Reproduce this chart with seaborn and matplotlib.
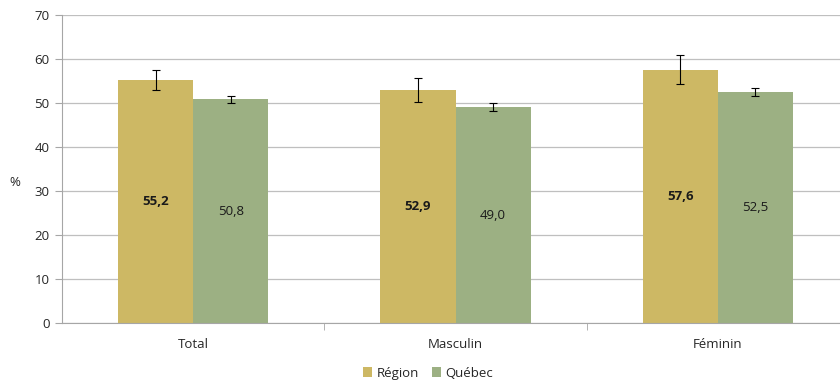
import pandas as pd
import matplotlib.pyplot as plt
import seaborn as sns
import numpy as np

categories = ["Total", "Masculin", "Féminin"]
region = [55.2, 52.9, 57.6]
quebec = [50.8, 49.0, 52.5]
region_err = [2.2, 2.7, 3.2]
quebec_err = [0.8, 0.9, 1.0]
series = ["Région", "Québec"]

df = pd.DataFrame({
    "cat": categories * 2,
    "val": region + quebec,
    "geo": [series[0]] * 3 + [series[1]] * 3,
})

sns.set_style("white")
plt.rcParams['font.family'] = ['Open Sans', 'DejaVu Sans']

fig = plt.figure(figsize=(8.4, 3.83), dpi=100)
ax = fig.add_axes([0.0738, 0.1567, 0.937, 0.8041])

couleurs = {"Région": "#CDB864", "Québec": "#9CB083"}
sns.barplot(data=df, x="cat", y="val", hue="geo", palette=couleurs,
            width=0.572, gap=0, errorbar=None, saturation=1, ax=ax,
            edgecolor="none", zorder=2)

# barres d'erreur et étiquettes
erreurs = [region_err, quebec_err]
conteneurs = list(ax.containers)
for i, cont in enumerate(conteneurs):
    xs = [p.get_x() + p.get_width() / 2 for p in cont.patches]
    ys = [p.get_height() for p in cont.patches]
    ax.errorbar(xs, ys, yerr=erreurs[i], fmt="none", ecolor="black",
                elinewidth=0.8, capsize=3, capthick=0.8, zorder=3)
    ax.bar_label(cont, labels=[f"{v:.1f}".replace(".", ",") for v in ys],
                 label_type="center", fontsize=9.5, color="#1a1a1a",
                 fontweight="bold" if i == 0 else "normal")

ax.set_ylim(0, 70)
ax.set_xlim(-0.5, 2.5)
ax.set_yticks(range(0, 71, 10))
ax.yaxis.grid(True, color="#BFBFBF", linewidth=0.9, zorder=0)
ax.set_axisbelow(True)
for s in ["top", "right"]:
    ax.spines[s].set_visible(False)
ax.spines["left"].set_color("#A6A6A6")
ax.spines["bottom"].set_color("#A6A6A6")
ax.tick_params(axis="y", length=5, color="#A6A6A6", labelsize=9.5, pad=4, left=True)
ax.tick_params(axis="x", length=0, labelsize=9.5, pad=11)
ax.set_xticks([0.5, 1.5], minor=True)
ax.tick_params(axis="x", which="minor", length=5, color="#A6A6A6", bottom=True)
ax.set_xlabel("")
ax.set_ylabel("%", rotation=0, fontsize=9.5, va="center", ha="center")
ax.yaxis.set_label_coords(-0.06, 0.455)

handles, labels = ax.get_legend_handles_labels()
ax.legend(handles, labels, loc="center", bbox_to_anchor=(0.465, -0.163),
          ncol=2, frameon=False, fontsize=9.5, handlelength=0.7, handleheight=0.7,
          handletextpad=0.3, columnspacing=1.0)

plt.savefig("out.png", dpi=100)
plt.close()
